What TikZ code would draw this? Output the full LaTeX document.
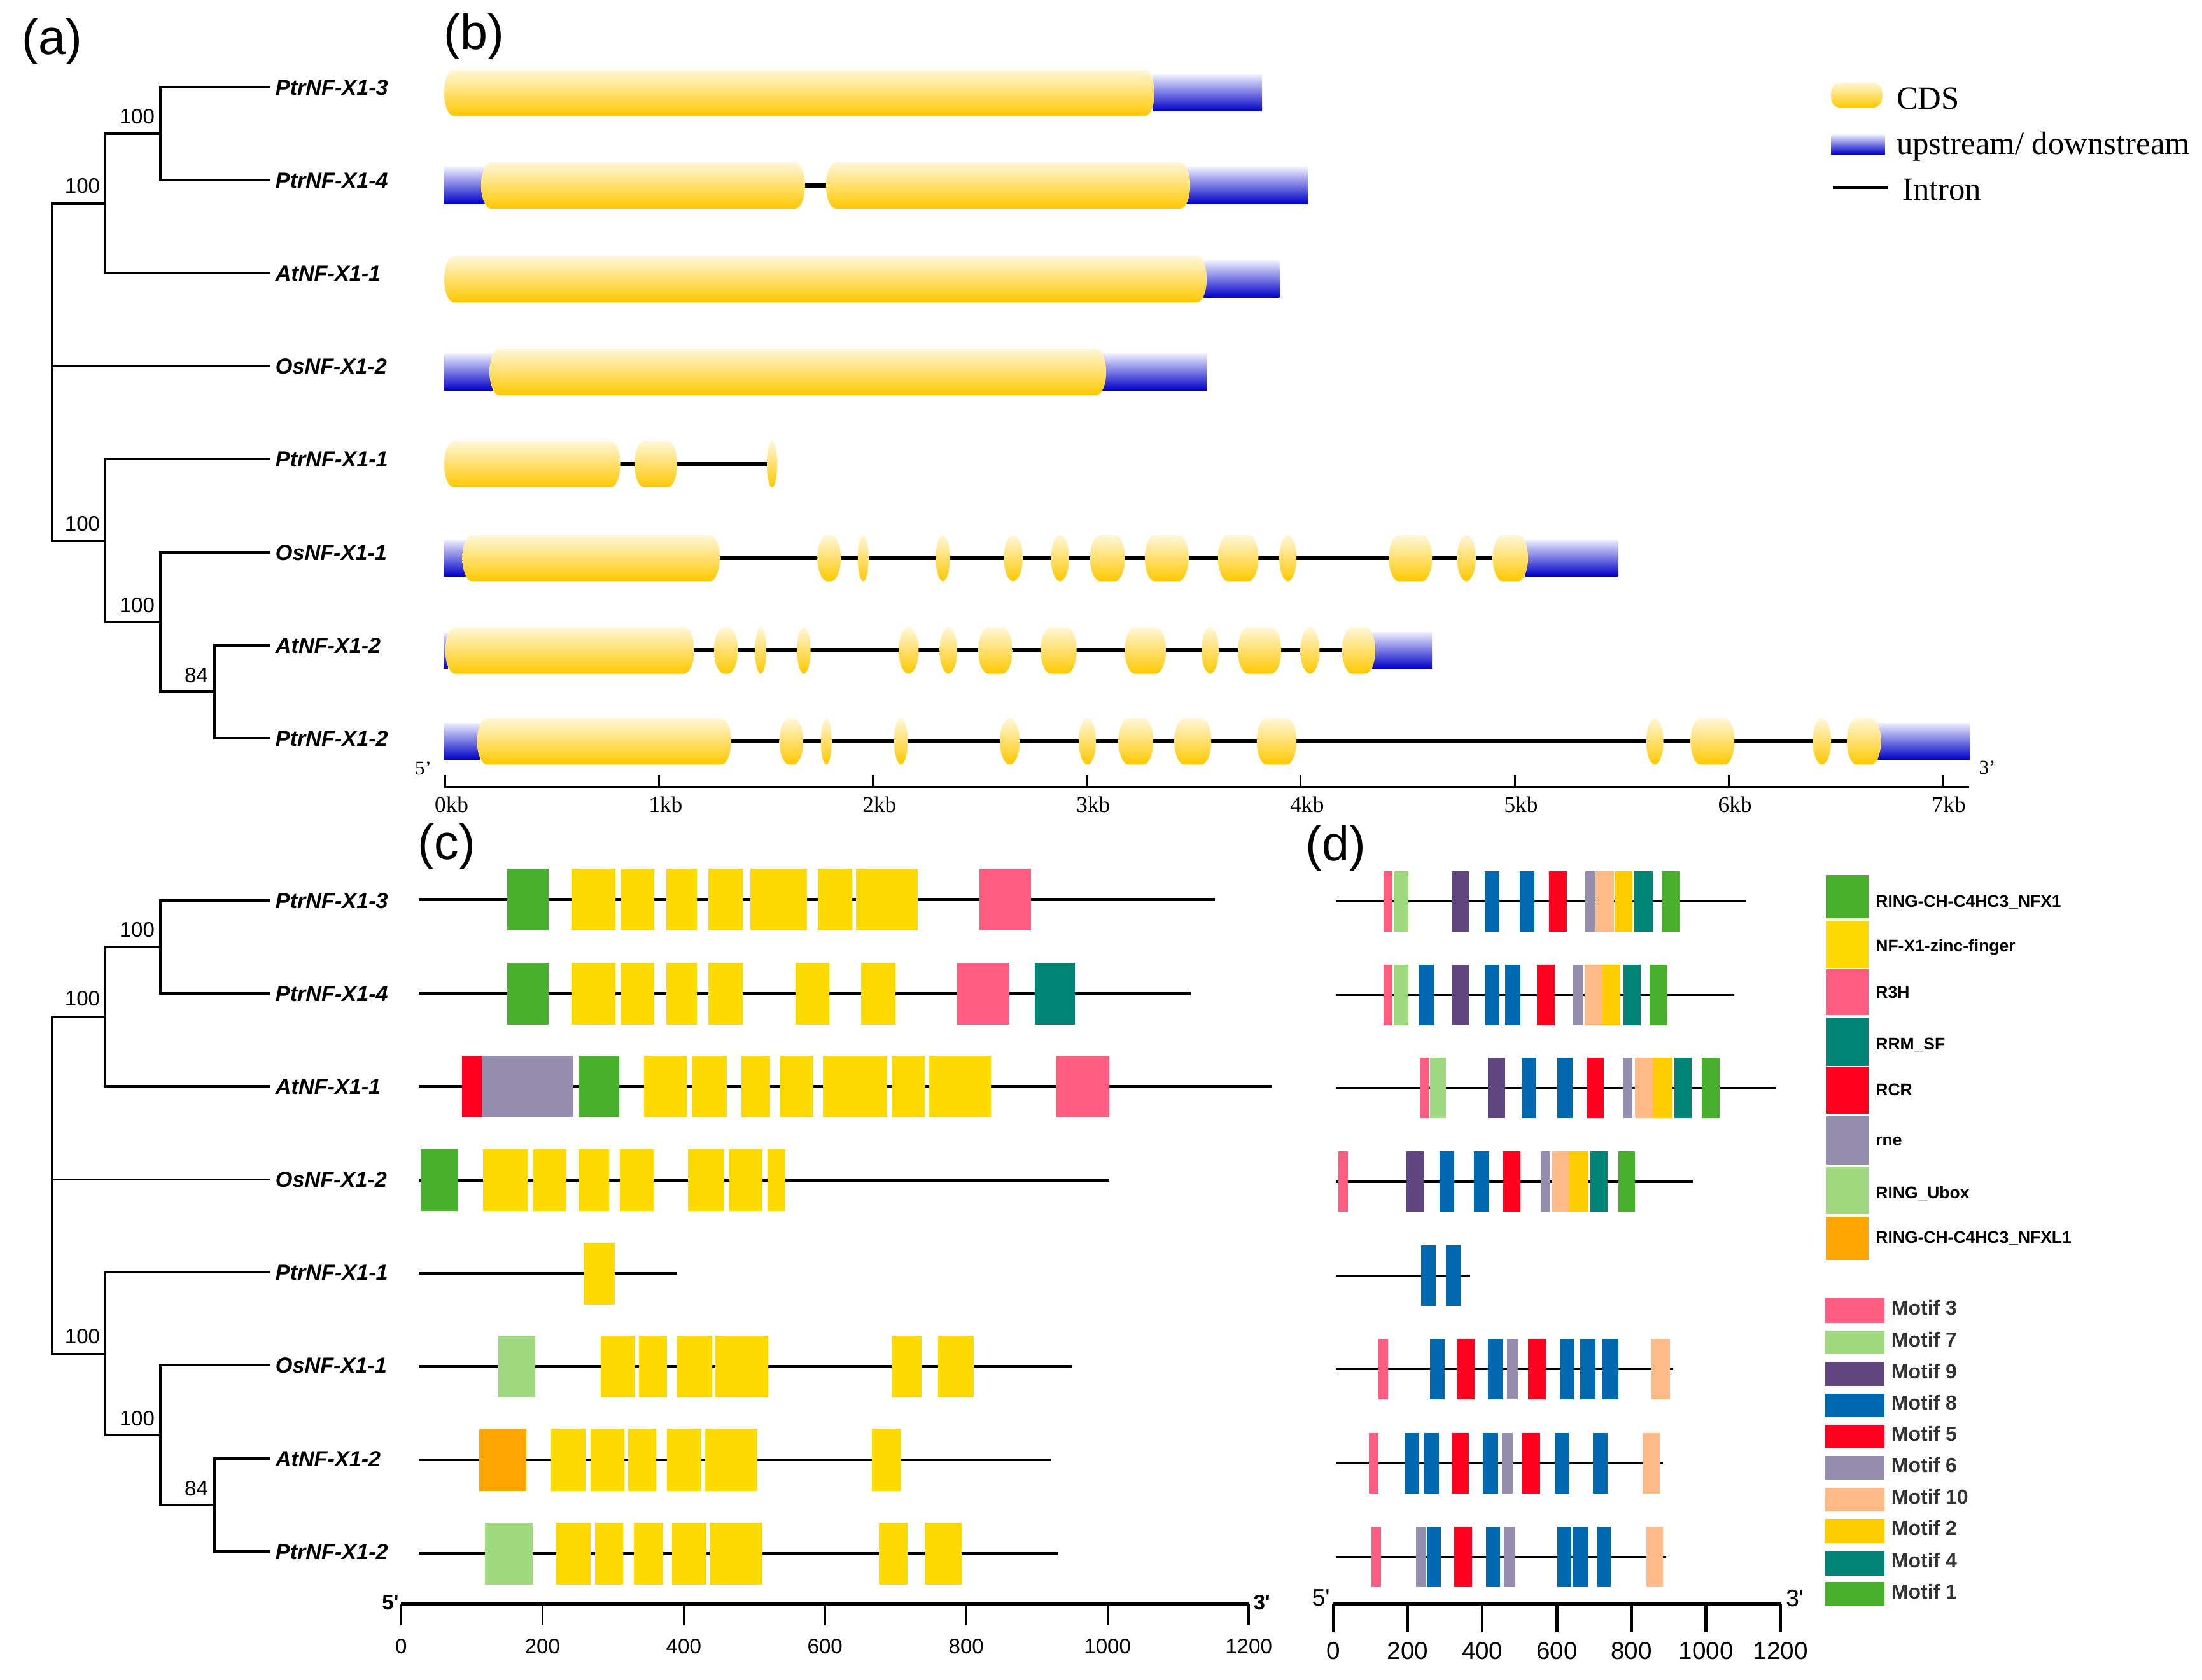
\documentclass[tikz,border=0pt]{standalone}
\usepackage{fontspec}
\setmainfont{Liberation Serif}
\newfontfamily\arialf{Liberation Sans}
\definecolor{gr}{RGB}{72,176,44}
\definecolor{ye}{RGB}{255,218,0}
\definecolor{pk}{RGB}{255,92,130}
\definecolor{te}{RGB}{0,132,118}
\definecolor{rd}{RGB}{255,0,30}
\definecolor{gy}{RGB}{150,142,175}
\definecolor{lg}{RGB}{160,216,128}
\definecolor{og}{RGB}{255,165,0}
\definecolor{pu}{RGB}{98,70,130}
\definecolor{bl}{RGB}{0,104,176}
\definecolor{pe}{RGB}{255,186,135}
\definecolor{go}{RGB}{255,204,0}
\definecolor{cdsTop}{RGB}{255,247,218}
\definecolor{cdsBot}{RGB}{255,200,0}
\definecolor{utrTop}{RGB}{238,238,255}
\definecolor{utrMid}{RGB}{115,115,225}
\definecolor{utrBot}{RGB}{0,0,200}
\definecolor{mtext}{RGB}{50,50,50}

\newcommand\cdsexon[3]{%
  \pgfmathsetmacro\er{min((#2-#1)/2,7)}%
  \shade[top color=cdsTop,bottom color=cdsBot]
    ({#1+\er},{#3-16.5}) -- ({#2-\er},{#3-16.5})
    arc[start angle=-90,end angle=90,x radius=\er,y radius=16.5]
    -- ({#1+\er},{#3+16.5})
    arc[start angle=90,end angle=270,x radius=\er,y radius=16.5] -- cycle;}
\newcommand\utrbox[3]{%
  \shade[top color=utrTop,middle color=utrMid,bottom color=utrBot]
    (#1,{#3-13}) rectangle (#2,{#3+13});}
\newcommand\introns[3]{\draw[line width=3pt] (#1,#3) -- (#2,#3);}
\newcommand\cprow[3]{%
  \draw[line width=2.2pt] (298.3,#1) -- (#2,#1);
  \foreach \xa/\xb/\col in {#3}{\fill[\col] (\xa,{#1-22}) rectangle (\xb,{#1+22});}}
\newcommand\dmrow[3]{%
  \draw[line width=1.5pt] (951,#1) -- (#2,#1);
  \foreach \xa/\xb/\col in {#3}{\fill[\col] (\xa,{#1-21.5}) rectangle (\xb,{#1+21.5});}}

\begin{document}
\begin{tikzpicture}[x=1pt,y=-1pt,
  leaflab/.style={font=\arialf\bfseries\itshape\fontsize{15.5}{18}\selectfont, anchor=west, inner sep=0pt, outer xsep=5pt, text height=11.1pt, text depth=0pt},
  boot/.style={font=\arialf\fontsize{15}{18}\selectfont, inner sep=0pt},
  branch/.style={line width=1.6pt, line cap=rect},
  panel/.style={font=\arialf\fontsize{35}{40}\selectfont, inner sep=0pt},
  kblab/.style={font=\fontsize{16}{18}\selectfont, inner sep=0pt},
  leglab/.style={font=\fontsize{23}{26}\selectfont, inner sep=0pt, anchor=base west},
  caxlab/.style={font=\arialf\fontsize{15}{18}\selectfont, inner sep=0pt},
  daxlab/.style={font=\arialf\fontsize{17.5}{20}\selectfont, inner sep=0pt},
  domlab/.style={font=\arialf\bfseries\fontsize{12}{14}\selectfont, inner sep=0pt, anchor=west, text height=8.6pt, text depth=0pt},
  motlab/.style={font=\arialf\bfseries\fontsize{14.5}{16}\selectfont, text=mtext, inner sep=0pt, anchor=west, text height=10.4pt, text depth=0pt}
]
\useasboundingbox (0,0) rectangle (1568,1196);
\fill[white] (0,0) rectangle (1568,1196);

% panel labels
\node[panel] (pa) at (37,29.5) {(a)};
\node[panel] (pb) at (337.5,26) {(b)};
\node[panel] (pc) at (318,603) {(c)};
\node[panel] (pd) at (951,604) {(d)};

% trees
\foreach \tn/\dy in {a/0,c/579.1}{
  \foreach \i/\lab in {1/PtrNF-X1-3,2/PtrNF-X1-4,3/AtNF-X1-1,4/OsNF-X1-2,5/PtrNF-X1-1,6/OsNF-X1-1,7/AtNF-X1-2,8/PtrNF-X1-2}{
    \node[leaflab] (\tn L\i) at (191.2,{\dy+62.1+66.23*(\i-1)}) {\lab};}
  \coordinate (\tn B) at (114.3,{\dy+95.2});
  \coordinate (\tn A) at (74.9,{\dy+144.9});
  \coordinate (\tn E) at (152.7,{\dy+492.6});
  \coordinate (\tn D) at (114.3,{\dy+442.9});
  \coordinate (\tn C) at (74.9,{\dy+385.0});
  \coordinate (\tn R) at (37,{\dy+264.9});
  \draw[branch] (\tn R) |- (\tn A);
  \draw[branch] (\tn R) |- (\tn C);
  \draw[branch] (\tn R) |- (\tn L4);
  \draw[branch] (\tn A) |- (\tn B);
  \draw[branch] (\tn A) |- (\tn L3);
  \draw[branch] (\tn B) |- (\tn L1);
  \draw[branch] (\tn B) |- (\tn L2);
  \draw[branch] (\tn C) |- (\tn L5);
  \draw[branch] (\tn C) |- (\tn D);
  \draw[branch] (\tn D) |- (\tn L6);
  \draw[branch] (\tn D) |- (\tn E);
  \draw[branch] (\tn E) |- (\tn L7);
  \draw[branch] (\tn E) |- (\tn L8);
  \node[boot] (\tn b1) at (97.6,{\dy+83}) {100};
  \node[boot] (\tn b2) at (58.7,{\dy+132.2}) {100};
  \node[boot] (\tn b3) at (58.7,{\dy+372.8}) {100};
  \node[boot] (\tn b4) at (97.6,{\dy+431.2}) {100};
  \node[boot] (\tn b5) at (139.8,{\dy+480.8}) {84};
}

% ---------- panel (b) gene structures ----------
% row 1
\utrbox{821}{898.6}{66.2}
\cdsexon{316.3}{822.1}{66.2}
% row 2
\introns{570}{592}{132.1}
\utrbox{316.3}{345}{132.1}
\utrbox{845}{931.3}{132.1}
\cdsexon{342.6}{573.2}{132.1}
\cdsexon{588.2}{847.5}{132.1}
% row 3
\utrbox{857}{911.1}{198.8}
\cdsexon{316.3}{859.3}{198.8}
% row 4
\utrbox{316.3}{351}{264.9}
\utrbox{785}{859.3}{264.9}
\cdsexon{348.6}{787.7}{264.9}
% row 5
\introns{440}{548}{330.6}
\foreach \xa/\xb in {316.3/441.7,451.8/482.2,546.1/553.4}{\cdsexon{\xa}{\xb}{330.6}}
% row 6
\introns{510}{1066}{397.4}
\utrbox{316.3}{331.5}{397.4}
\utrbox{1086}{1152.1}{397.4}
\foreach \xa/\xb in {329.2/512.5,582.1/598.7,610.8/618.5,666.3/676.4,714.8/728.2,748.4/761.3,776.3/801.0,815.2/846.3,867.4/896.1,911.0/923.2,989.0/1019.7,1037.6/1050.9,1063.0/1088.1}{\cdsexon{\xa}{\xb}{397.4}}
% row 7
\introns{492}{958}{463.2}
\utrbox{316.3}{319}{463.2}
\utrbox{977}{1019.7}{463.2}
\foreach \xa/\xb in {317.1/494.3,508.5/525.4,537.6/545.7,567.5/577.2,639.9/654.1,669.1/681.6,696.6/720.9,741.1/766.6,801.0/830.1,855.6/867.8,881.5/912.3,926.0/939.6,955.8/979.3}{\cdsexon{\xa}{\xb}{463.2}}
% row 8
\introns{518}{1317}{527.9}
\utrbox{316.3}{342}{527.9}
\utrbox{1337}{1402.9}{527.9}
\foreach \xa/\xb in {339.7/520.6,555.0/572.0,584.5/592.2,636.7/646.4,712.0/726.1,768.2/780.4,796.5/821.2,836.2/862.5,894.9/923.2,1172.3/1184.4,1203.9/1235.0,1290.8/1303.8,1315.1/1339.4}{\cdsexon{\xa}{\xb}{527.9}}
% axis (b)
\draw[line width=2pt] (316.4,560.5) -- (1402.1,560.5);
\foreach \k in {0,...,7}{
  \draw[line width=1.3pt] ({317.1+152.3*\k},560.5) -- ++(0,-8.5);
  \node[kblab] (kb\k) at ({321.6+152.3*\k},572.8) {\k kb};}
\node[font=\fontsize{14}{16}\selectfont, inner sep=0pt] (b5p) at (301.4,547.3) {5'};
\node[font=\fontsize{14}{16}\selectfont, inner sep=0pt] (b3p) at (1415,546.6) {3'};
% legend (b)
\shade[top color=cdsTop,bottom color=cdsBot,rounded corners=7pt] (1303.8,58.6) rectangle (1340.2,76.7);
\shade[top color=utrTop,middle color=utrMid,bottom color=utrBot] (1303.8,95.8) rectangle (1342.2,109.9);
\draw[line width=2.5pt] (1305,133.4) -- (1344.3,133.4);
\node[leglab] (lcds) at (1350.3,77.5) {CDS};
\node[leglab] (lutr) at (1350.3,109.9) {upstream/ downstream};
\node[leglab] (lint) at (1354.4,142.3) {Intron};

% ---------- panel (c) ----------
\cprow{640.6}{864.9}{361.2/390.5/gr,406.9/438.3/ye,442.5/465.9/ye,474.3/496.1/ye,504.5/528.8/ye,534.3/574.5/ye,582.4/606.8/ye,609.7/653.3/ye,697.3/734.2/pk}
\cprow{707.5}{848.1}{361.2/390.5/gr,406.9/438.3/ye,442.5/465.9/ye,474.3/496.1/ye,504.5/528.8/ye,566.5/590.4/ye,613.0/637.8/ye,681.4/718.6/pk,736.7/765.2/te}
\cprow{773.6}{905.6}{328.9/343.2/rd,343.2/408.5/gy,411.9/440.8/gr,458.8/489.0/ye,493.2/517.5/ye,528.0/548.5/ye,555.6/579.1/ye,585.8/631.5/ye,634.8/658.3/ye,661.7/705.7/ye,751.7/789.9/pk}
\cprow{840.3}{789.9}{299.6/326.4/gr,344.0/375.8/ye,379.6/403.5/ye,411.9/433.7/ye,441.2/465.5/ye,489.8/515.8/ye,519.2/543.1/ye,546.4/559.4/ye}
\cprow{907.0}{482.3}{415.7/437.9/ye}
\cprow{973.3}{763.1}{354.9/380.9/lg,427.8/452.1/ye,455.0/474.7/ye,482.3/507.0/ye,509.5/547.2/ye,634.8/656.2/ye,667.9/693.5/ye}
\cprow{1039.6}{748.8}{341.1/375.0/og,392.6/416.9/ye,420.7/444.6/ye,447.1/467.2/ye,474.7/499.5/ye,502.0/539.3/ye,621.0/641.5/ye}
\cprow{1106.6}{753.8}{345.3/379.2/lg,396.0/420.7/ye,423.6/443.7/ye,451.3/472.2/ye,478.5/503.2/ye,505.3/543.1/ye,626.0/646.1/ye,658.3/684.7/ye}
% axis (c)
\draw[line width=2pt] (285.7,1142.3) -- (889.2,1142.3);
\foreach \k/\v in {0/0,1/200,2/400,3/600,4/800,5/1000,6/1200}{
  \draw[line width=1.5pt] ({285.7+100.58*\k},1142.3) -- ++(0,15);
  \node[caxlab] (cx\k) at ({285.7+100.58*\k},1172.2) {\v};}
\node[font=\arialf\bfseries\fontsize{15}{17}\selectfont, inner sep=0pt] (c5p) at (278,1141) {5'};
\node[font=\arialf\bfseries\fontsize{15}{17}\selectfont, inner sep=0pt] (c3p) at (898.5,1141) {3'};

% ---------- panel (d) ----------
\dmrow{641.8}{1243.5}{985.0/991.5/pk,992.6/1003.0/lg,1033.5/1045.8/pu,1057.4/1067.8/bl,1082.1/1092.7/bl,1102.9/1115.6/rd,1129.0/1135.5/gy,1136.2/1149.2/pe,1149.9/1162.6/go,1163.7/1176.9/te,1183.4/1196.1/gr}
\dmrow{708.6}{1234.9}{985.0/991.5/pk,992.6/1003.0/lg,1010.4/1021.1/bl,1033.5/1045.8/pu,1057.4/1067.8/bl,1071.9/1082.8/bl,1094.4/1107.1/rd,1120.2/1127.4/gy,1128.3/1141.3/pe,1141.3/1153.8/go,1156.1/1168.3/te,1174.6/1187.5/gr}
\dmrow{774.6}{1264.8}{1011.6/1017.6/pk,1018.5/1029.6/lg,1059.7/1071.9/pu,1083.5/1093.9/bl,1108.9/1119.8/bl,1130.2/1142.2/rd,1155.6/1162.6/gy,1164.4/1176.9/pe,1176.9/1190.3/go,1192.2/1204.6/te,1211.6/1224.5/gr}
\dmrow{841.5}{1205.3}{952.8/959.8/pk,1001.4/1013.9/pu,1025.0/1035.4/bl,1049.7/1060.4/bl,1070.3/1082.8/rd,1097.1/1104.1/gy,1105.2/1117.5/pe,1117.5/1131.3/go,1132.5/1144.8/te,1152.2/1164.4/gr}
\dmrow{908.3}{1046.9}{1011.8/1022.2/bl,1029.8/1040.5/bl}
\dmrow{975.1}{1191.5}{981.5/988.5/pk,1018.1/1028.5/bl,1037.2/1050.0/rd,1059.7/1070.5/bl,1072.9/1080.9/gy,1088.1/1100.6/rd,1111.2/1120.9/bl,1125.1/1136.0/bl,1141.3/1152.2/bl,1175.9/1189.2/pe}
\dmrow{1041.9}{1184.1}{974.8/981.7/pk,1000.3/1010.4/bl,1014.1/1024.8/bl,1033.5/1045.8/rd,1055.9/1066.6/bl,1069.6/1077.0/gy,1084.0/1096.7/rd,1107.3/1117.5/bl,1134.3/1144.8/bl,1169.5/1181.8/pe}
\dmrow{1108.8}{1186.4}{976.4/983.4/pk,1008.3/1015.3/gy,1016.0/1026.1/bl,1035.4/1048.1/rd,1058.0/1068.2/bl,1070.8/1078.9/gy,1108.9/1119.1/bl,1120.0/1130.9/bl,1137.6/1147.1/bl,1172.3/1184.1/pe}
% axis (d)
\draw[line width=2.5pt] (949.4,1142.2) -- (1267.8,1142.2);
\foreach \k/\v in {0/0,1/200,2/400,3/600,4/800,5/1000,6/1200}{
  \draw[line width=2pt] ({949.4+53.07*\k},1142.2) -- ++(0,20);
  \node[daxlab] (dx\k) at ({949.4+53.07*\k},1175.6) {\v};}
\node[font=\arialf\fontsize{17}{19}\selectfont, inner sep=0pt] (d5p) at (940.6,1138) {5'};
\node[font=\arialf\fontsize{17}{19}\selectfont, inner sep=0pt] (d3p) at (1278,1138) {3'};

% legend (d): domains
\foreach \col/\ya/\yb/\ym/\lab [count=\n] in {gr/623.1/653.8/641.5/RING-CH-C4HC3\_NFX1,ye/655.6/689.1/673.6/NF-X1-zinc-finger,pk/690.1/722.9/706.7/R3H,te/724.7/758.9/743.0/RRM\_SF,rd/759.6/793.1/775.8/RCR,gy/794.9/829.4/811.8/rne,lg/831.2/864.7/849.2/RING\_Ubox,og/866.4/897.1/881.2/RING-CH-C4HC3\_NFXL1}{
  \fill[\col] (1300,\ya) rectangle (1330.5,\yb);
  \node[domlab] (dom\n) at (1335.5,\ym) {\lab};}
% legend (d): motifs
\foreach \col/\ya/\yb/\lab [count=\n] in {pk/924.6/942.2/3,lg/947.5/964.5/7,pu/969.8/987.0/9,bl/992.3/1009.3/8,rd/1014.5/1031.5/5,gy/1036.8/1054.0/6,pe/1059.3/1076.2/10,go/1081.5/1099.1/2,te/1104.4/1122.1/4,gr/1126.7/1143.9/1}{
  \fill[\col] (1299.5,\ya) rectangle (1341.8,\yb);
  \node[motlab] (mot\n) at (1346.6,{(\ya+\yb)/2-2}) {Motif \lab};}
\end{tikzpicture}
\end{document}
